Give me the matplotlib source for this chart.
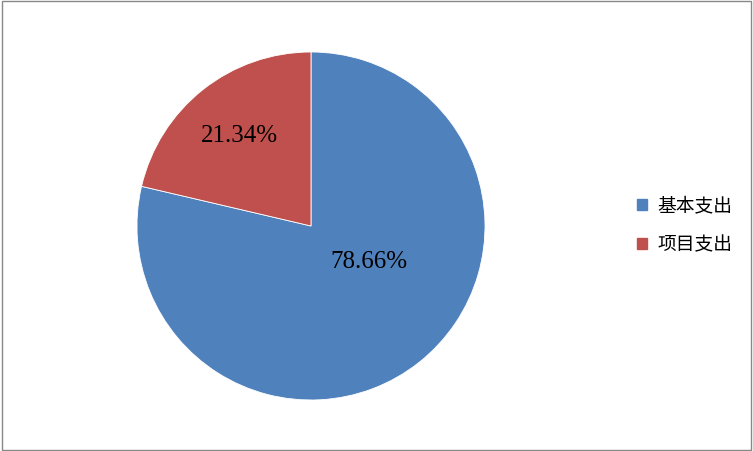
import matplotlib
matplotlib.use("Agg")
import matplotlib.pyplot as plt
from matplotlib.patches import Rectangle, Patch

categories = ["基本支出", "项目支出"]
values = [78.66, 21.34]
pct_labels = ["78.66%", "21.34%"]
colors = ["#4F81BD", "#C0504D"]

fig = plt.figure(figsize=(7.53, 4.51), dpi=100)
fig.patch.set_facecolor("white")
ax = fig.add_axes([0.1819, 0.1131, 0.4622, 0.7716])
wedges, _ = ax.pie(values, colors=colors, startangle=90, counterclock=False,
                   wedgeprops=dict(edgecolor="white", linewidth=0.6))
ax.set_xlim(-1, 1)
ax.set_ylim(-1, 1)
ax.set_aspect("auto")

label_pos = [(0.333, -0.207), (-0.414, 0.517)]
for (x, y), t in zip(label_pos, pct_labels):
    ax.text(x, y, t, ha="center", va="center", fontsize=18,
            family=["Liberation Serif"], color="black")

handles = [Patch(facecolor=c, edgecolor=c) for c in colors]
fig.legend(handles, categories, loc="center left", bbox_to_anchor=(0.828, 0.501),
           frameon=False, prop={"family": ["Noto Sans CJK SC", "DejaVu Sans"], "size": 13.5},
           handlelength=0.55, handleheight=0.55, handletextpad=0.55, labelspacing=0.95,
           borderpad=0.2)

fig.add_artist(Rectangle((0.002, 0.003), 0.995, 0.994, transform=fig.transFigure,
                         fill=False, edgecolor="#888888", linewidth=1))
fig.savefig("out.png", dpi=100)
